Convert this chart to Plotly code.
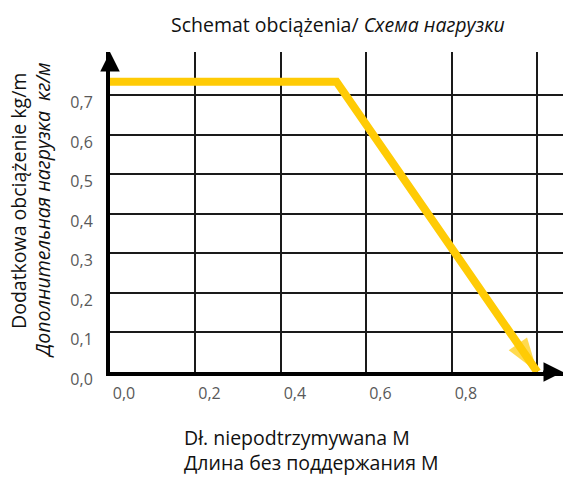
import plotly.graph_objects as go

# Data
length_m = [0.0, 0.53, 1.0]
load_kg_m = [0.735, 0.735, 0.0]
x_ticks = [0.0, 0.2, 0.4, 0.6, 0.8]
y_ticks = [0.0, 0.1, 0.2, 0.3, 0.4, 0.5, 0.6, 0.7]

title_pl = "Schemat obciążenia/ "
title_ru = "Схема нагрузки"
ylab_pl = "Dodatkowa obciążenie kg/m"
ylab_ru = "Дополнительная нагрузка  кг/м"
xlab_pl = "Dł. niepodtrzymywana M"
xlab_ru = "Длина без поддержания М"

YELLOW = "#FFCB05"
FONT = "Open Sans"
TXT = 19.5
XMAX, YMAX = 1.06, 0.81
W, H = 564, 477
ML, MR, MT, MB = 110, 1, 52, 105

fig = go.Figure()
fig.add_trace(go.Scatter(
    x=length_m, y=load_kg_m, mode="lines+markers",
    line=dict(color=YELLOW, width=8),
    marker=dict(symbol="arrow", angleref="previous", color=YELLOW,
                size=[0, 0, 36], line=dict(width=0)),
    cliponaxis=False, showlegend=False, hoverinfo="skip",
))

fig.update_layout(
    template="none",
    width=W, height=H,
    margin=dict(l=ML, r=MR, t=MT, b=MB, autoexpand=False),
    paper_bgcolor="white", plot_bgcolor="white",
    separators=", ",
    font=dict(family=FONT, color="#111"),
    xaxis=dict(range=[0, XMAX], tickvals=[0, 0.2, 0.4, 0.6, 0.8, 1.0],
               ticktext=[f"{v:.1f}".replace(".", ",") for v in x_ticks] + [""],
               showgrid=True, gridcolor="#1a1a1a", gridwidth=2,
               showline=True, linecolor="black", linewidth=4,
               ticks="", ticklabelshift=14, ticklabelstandoff=4,
               tickfont=dict(size=16, color="#595959", family=FONT),
               zeroline=False, fixedrange=True, automargin=False),
    yaxis=dict(range=[0, YMAX], tickvals=y_ticks,
               ticktext=[f"{v:.1f}".replace(".", ",") for v in y_ticks],
               showgrid=True, gridcolor="#1a1a1a", gridwidth=2,
               showline=True, linecolor="black", linewidth=4,
               ticks="", ticklabelstandoff=10, ticklabelshift=7,
               tickfont=dict(size=16, color="#595959", family=FONT),
               zeroline=False, fixedrange=True, automargin=False),
)

# axis arrowheads
fig.add_annotation(x=0, y=YMAX, ax=0, ay=YMAX - 0.05, xref="x", yref="y",
                   axref="x", ayref="y", showarrow=True, arrowhead=2,
                   arrowsize=1.3, arrowwidth=3, arrowcolor="black", text="")
fig.add_annotation(x=XMAX, y=0, ax=XMAX - 0.05, ay=0, xref="x", yref="y",
                   axref="x", ayref="y", showarrow=True, arrowhead=2,
                   arrowsize=1.3, arrowwidth=3, arrowcolor="black", text="")

pw, ph = W - ML - MR, H - MT - MB


def px(x, y):
    return (x - ML) / pw, (H - MB - y) / ph


def text_at(text, x, y, angle=0):
    xp, yp = px(x, y)
    fig.add_annotation(text=text, x=xp, y=yp, xref="paper", yref="paper",
                       xanchor="center", yanchor="middle", showarrow=False,
                       textangle=angle, font=dict(size=TXT, family=FONT, color="#111"))


text_at(title_pl + "<i>" + title_ru + "</i>", 338, 24)
text_at(ylab_pl, 18, 201, -90)
text_at("<i>" + ylab_ru + "</i>", 42, 210, -90)
text_at(xlab_pl, 297, 437)
text_at(xlab_ru, 311, 462)

fig.write_html("out.html", config={"displayModeBar": False},
               post_script="document.body.style.margin='0';")
